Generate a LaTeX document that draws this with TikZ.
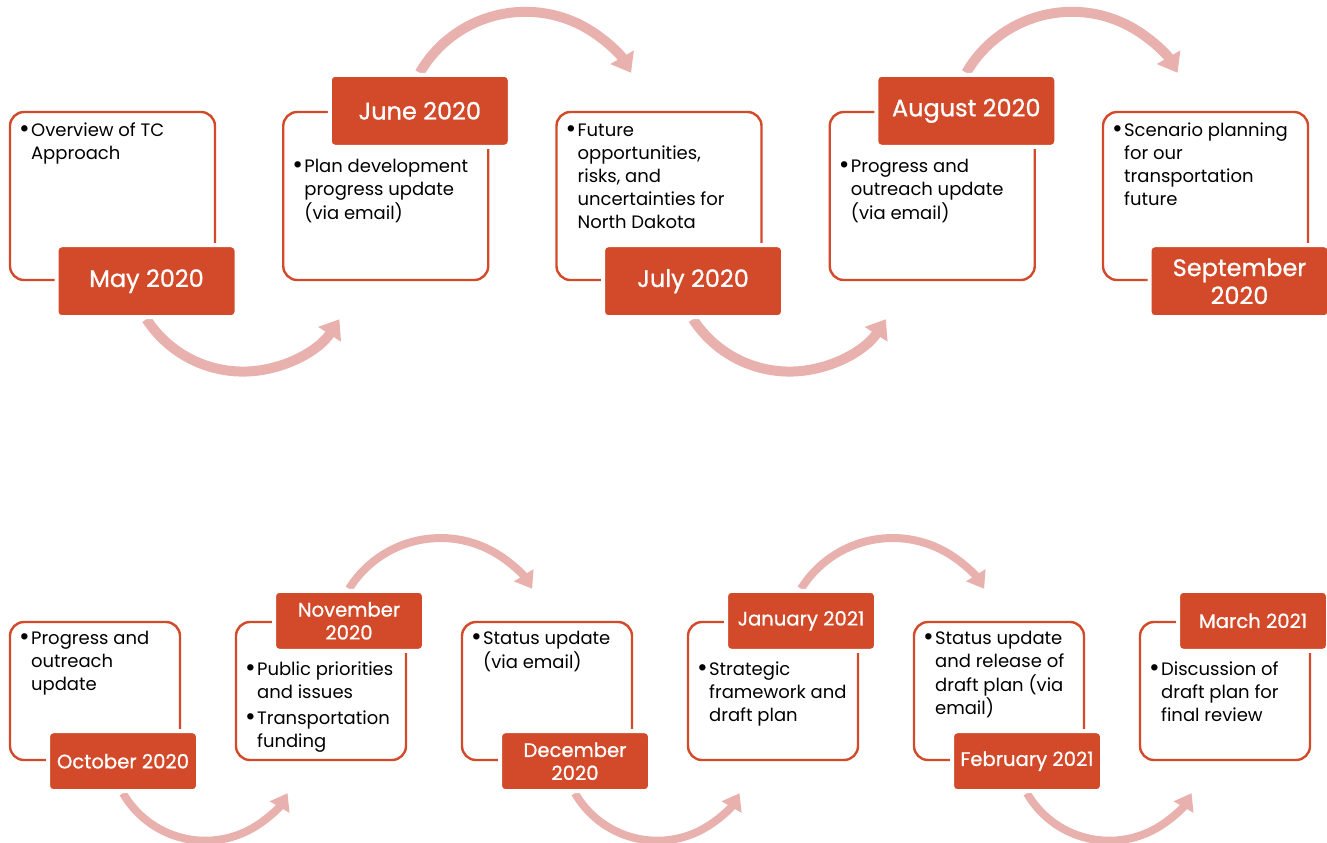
\documentclass[tikz,border=0pt]{standalone}
\usepackage{fontspec}
\setmainfont{Poppins}
\newfontfamily\monthfont{Poppins}[FakeBold=0.8]
\usepackage{tikz}
\usetikzlibrary{arrows.meta, positioning, calc}
\definecolor{tcred}{HTML}{D24A29}
\definecolor{tcpink}{HTML}{E8B1AE}
\pgfdeclarelayer{background}
\pgfsetlayers{background,main}
\newcommand{\cardfont}{\fontsize{9pt}{11.5pt}\selectfont}
\newcommand{\bdot}{\raisebox{-0.4pt}{\fontsize{13pt}{11.5pt}\selectfont\textbullet}}
\newcommand{\bpoints}[1]{\begin{tabular}{@{}l@{\hspace{0.6pt}}l@{}}#1\end{tabular}}

\begin{document}
\begin{tikzpicture}[x=0.5pt, y=-0.5pt,
  card/.style={draw=tcred, line width=1.2pt, rounded corners=7pt, fill=white, minimum width=102.5pt, minimum height=84pt, inner sep=0pt},
  smallcard/.style={card, minimum width=85pt, minimum height=69pt},
  month/.style={fill=tcred, draw=white, line width=2pt, rounded corners=2.5pt, text=white, align=center, inner sep=0pt, minimum width=90pt, minimum height=36pt, font=\monthfont\fontsize{12pt}{14pt}\selectfont},
  smallmonth/.style={month, minimum width=75pt, minimum height=30pt, font=\monthfont\fontsize{9.8pt}{11.5pt}\selectfont},
  cardtext/.style={anchor=north west, inner sep=0pt, align=left, font=\cardfont},
  flow/.style={draw=tcpink, line width=5pt, -{Triangle[width=13pt, length=9pt]}},
  smallflow/.style={draw=tcpink, line width=4pt, -{Triangle[width=11pt, length=8pt]}}]
\useasboundingbox (0,0) rectangle (1327,842);

% top row
\def\xstep{0}
	\node [card] (maybox) at (112.5+273.25*\xstep, 196) {};
	\node [month] (may) at ($(maybox.south)+(34,0)$) {May 2020};
	\node [cardtext, below right=4.5pt and 5pt of maybox.north west] (maytext) {\bpoints{\bdot&Overview of TC\\&Approach}};
\def\xstep{1}
	\node [card] (junebox) at (112.5+273.25*\xstep, 196) {};
	\node [month] (june) at ($(junebox.north)+(34,0)$) {June 2020};
	\node [cardtext, below right=22.5pt and 5pt of junebox.north west] (junetext) {\bpoints{\bdot&Plan development\\&progress update\\&(via email)}};
\def\xstep{2}
	\node [card] (julybox) at (112.5+273.25*\xstep, 196) {};
	\node [month] (july) at ($(julybox.south)+(34,0)$) {July 2020};
	\node [cardtext, below right=4.5pt and 5pt of julybox.north west] (julytext) {\bpoints{\bdot&Future\\&opportunities,\\&risks, and\\&uncertainties for\\&North Dakota}};
\def\xstep{3}
	\node [card] (augbox) at (112.5+273.25*\xstep, 196) {};
	\node [month] (aug) at ($(augbox.north)+(34,0)$) {August 2020};
	\node [cardtext, below right=22.5pt and 5pt of augbox.north west] (augtext) {\bpoints{\bdot&Progress and\\&outreach update\\&(via email)}};
\def\xstep{4}
	\node [card] (sepbox) at (112.5+273.25*\xstep, 196) {};
	\node [month] (sep) at ($(sepbox.south)+(34,0)$) {September\\2020};
	\node [cardtext, below right=4.5pt and 5pt of sepbox.north west] (septext) {\bpoints{\bdot&Scenario planning\\&for our\\&transportation\\&future}};

% bottom row
\def\xstep{0}
	\node [smallcard] (octbox) at (95+226*\xstep, 691) {};
	\node [smallmonth] (oct) at ($(octbox.south)+(28,0)$) {October 2020};
	\node [cardtext, below right=3.5pt and 5pt of octbox.north west] (octtext) {\bpoints{\bdot&Progress and\\&outreach\\&update}};
\def\xstep{1}
	\node [smallcard] (novbox) at (95+226*\xstep, 691) {};
	\node [smallmonth] (nov) at ($(novbox.north)+(28,0)$) {November\\2020};
	\node [cardtext, below right=19pt and 5pt of novbox.north west] (novtext) {\bpoints{\bdot&Public priorities\\&and issues\\[1.5pt]\bdot&Transportation\\&funding}};
\def\xstep{2}
	\node [smallcard] (decbox) at (95+226*\xstep, 691) {};
	\node [smallmonth] (dec) at ($(decbox.south)+(28,0)$) {December\\2020};
	\node [cardtext, below right=3.5pt and 5pt of decbox.north west] (dectext) {\bpoints{\bdot&Status update\\&(via email)}};
\def\xstep{3}
	\node [smallcard] (janbox) at (95+226*\xstep, 691) {};
	\node [smallmonth] (jan) at ($(janbox.north)+(28,0)$) {January 2021};
	\node [cardtext, below right=19pt and 5pt of janbox.north west] (jantext) {\bpoints{\bdot&Strategic\\&framework and\\&draft plan}};
\def\xstep{4}
	\node [smallcard] (febbox) at (95+226*\xstep, 691) {};
	\node [smallmonth] (feb) at ($(febbox.south)+(28,0)$) {February 2021};
	\node [cardtext, below right=3.5pt and 5pt of febbox.north west] (febtext) {\bpoints{\bdot&Status update\\&and release of\\&draft plan (via\\&email)}};
\def\xstep{5}
	\node [smallcard] (marbox) at (95+226*\xstep, 691) {};
	\node [smallmonth] (mar) at ($(marbox.north)+(28,0)$) {March 2021};
	\node [cardtext, below right=19pt and 5pt of marbox.north west] (martext) {\bpoints{\bdot&Discussion of\\&draft plan for\\&final review}};

% arrows between months
\begin{pgfonlayer}{background}
	\draw [flow] (may.south) arc [start angle=147, end angle=33, radius=115];
	\draw [flow] (june.north) arc [start angle=210, end angle=330, radius=122];
	\draw [flow] (july.south) arc [start angle=147, end angle=33, radius=115];
	\draw [flow] (aug.north) arc [start angle=210, end angle=330, radius=122];
	\draw [smallflow] (oct.south) arc [start angle=150, end angle=30, radius=95];
	\draw [smallflow] (nov.north) arc [start angle=212, end angle=328, radius=108];
	\draw [smallflow] (dec.south) arc [start angle=150, end angle=30, radius=95];
	\draw [smallflow] (jan.north) arc [start angle=212, end angle=328, radius=108];
	\draw [smallflow] (feb.south) arc [start angle=150, end angle=30, radius=95];
\end{pgfonlayer}
\end{tikzpicture}
\end{document}
